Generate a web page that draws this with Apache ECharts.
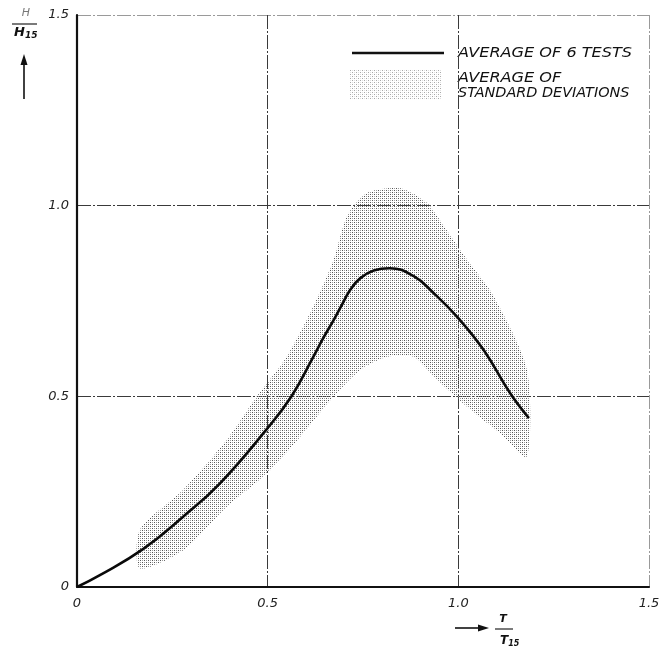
<!DOCTYPE html>
<html>
<head>
<meta charset="utf-8">
<script src="https://cdn.jsdelivr.net/npm/echarts@6/dist/echarts.min.js"></script>
<style>
  html, body { margin: 0; padding: 0; background: #fff; }
  #chart { width: 670px; height: 662px; }
</style>
</head>
<body>
<div id="chart"></div>
<script>
// Relative wave height H/H15 against relative period T/T15
const tickValues = [0, 0.5, 1.0, 1.5];
const tickLabels = ['0', '0.5', '1.0', '1.5'];

// Average of 6 tests
const meanT = [0, 0.06, 0.174, 0.279, 0.375, 0.496, 0.563, 0.62, 0.646, 0.673, 0.69, 0.717, 0.743, 0.778, 0.82, 0.883, 0.935, 1.0, 1.066, 1.136, 1.185];
const meanH = [0, 0.031, 0.10, 0.185, 0.272, 0.412, 0.501, 0.604, 0.653, 0.70, 0.731, 0.78, 0.81, 0.830, 0.836, 0.815, 0.771, 0.705, 0.622, 0.508, 0.443];

// Band of average standard deviations: upper and lower edges
const upperT = [0.165, 0.279, 0.393, 0.472, 0.55, 0.62, 0.673, 0.708, 0.76, 0.848, 0.918, 0.962, 1.023, 1.093, 1.18];
const upperH = [0.15, 0.255, 0.386, 0.50, 0.604, 0.736, 0.858, 0.972, 1.033, 1.046, 1.007, 0.946, 0.858, 0.762, 0.57];
const lowerT = [0.165, 0.279, 0.393, 0.498, 0.585, 0.673, 0.743, 0.813, 0.883, 0.935, 1.023, 1.11, 1.18];
const lowerH = [0.049, 0.097, 0.211, 0.298, 0.394, 0.50, 0.57, 0.604, 0.604, 0.552, 0.473, 0.403, 0.342];

const legendLine = 'AVERAGE OF 6 TESTS';
const legendBand = ['AVERAGE OF', 'STANDARD DEVIATIONS'];

// Halftone-like dot screen used for the deviation band
function dotPattern(dark, light) {
  const c = document.createElement('canvas');
  c.width = 4; c.height = 4;
  const ctx = c.getContext('2d');
  ctx.fillStyle = dark;
  ctx.fillRect(0, 0, 1, 1);
  ctx.fillRect(2, 2, 1, 1);
  if (light) {
    ctx.fillStyle = light;
    ctx.fillRect(2, 0, 1, 1);
    ctx.fillRect(0, 2, 1, 1);
  }
  return { image: c, repeat: 'repeat' };
}
const bandFill = dotPattern('#555555', '#9a9a9a');
const legendFill = dotPattern('#a8a8a8', '#e0e0e0');

const FONT = '"DejaVu Sans", sans-serif';
const toPairs = (xs, ys) => xs.map((x, i) => [x, ys[i]]);

const chart = echarts.init(document.getElementById('chart'), null, { renderer: 'canvas' });

const gridLineStyle = { color: ['#000', '#3a3a3a', '#3a3a3a', '#9a9a9a'], width: 1, type: [14, 2, 2, 2] };

const option = {
  animation: false,
  backgroundColor: '#fff',
  grid: { left: 77, right: 21, top: 15, bottom: 75 },
  xAxis: {
    type: 'value', min: 0, max: 1.5, interval: 0.5,
    axisLine: { show: true, onZero: false, lineStyle: { color: '#111', width: 2.2 } },
    axisTick: { show: false },
    axisLabel: {
      margin: 10, color: '#222', fontFamily: FONT, fontStyle: 'italic', fontSize: 13,
      formatter: v => tickLabels[tickValues.indexOf(Math.round(v * 10) / 10)]
    },
    splitLine: { show: true, lineStyle: gridLineStyle }
  },
  yAxis: {
    type: 'value', min: 0, max: 1.5, interval: 0.5,
    axisLine: { show: true, onZero: false, lineStyle: { color: '#111', width: 2.2 } },
    axisTick: { show: false },
    axisLabel: {
      margin: 8, color: '#222', fontFamily: FONT, fontStyle: 'italic', fontSize: 13,
      formatter: v => tickLabels[tickValues.indexOf(Math.round(v * 10) / 10)]
    },
    splitLine: { show: true, lineStyle: gridLineStyle }
  },
  series: [
    {
      name: 'band',
      type: 'custom',
      data: [[0, 0]],
      z: 1,
      renderItem: function (params, api) {
        const top = upperT.map((t, i) => api.coord([t, upperH[i]]));
        const bottom = lowerT.map((t, i) => api.coord([t, lowerH[i]])).reverse();
        return {
          type: 'polygon',
          shape: { points: top.concat(bottom), smooth: 0.25 },
          style: { fill: bandFill, stroke: null }
        };
      }
    },
    {
      name: legendLine,
      type: 'line',
      data: toPairs(meanT, meanH),
      smooth: 0.45,
      symbol: 'none',
      z: 3,
      lineStyle: { color: '#0a0a0a', width: 2.6 }
    }
  ],
  graphic: [
    // legend
    { type: 'line', shape: { x1: 352, y1: 53, x2: 444, y2: 53 }, style: { stroke: '#111', lineWidth: 2.6 } },
    { type: 'text', x: 458, y: 53, scaleX: 1.15, style: { text: legendLine, font: 'italic 14px ' + FONT, fill: '#111', textVerticalAlign: 'middle' } },
    { type: 'rect', shape: { x: 350, y: 70, width: 92, height: 30 }, style: { fill: legendFill } },
    { type: 'text', x: 458, y: 78, scaleX: 1.15, style: { text: legendBand[0], font: 'italic 14px ' + FONT, fill: '#111', textVerticalAlign: 'middle' } },
    { type: 'text', x: 458, y: 93, scaleX: 1.03, style: { text: legendBand[1], font: 'italic 14px ' + FONT, fill: '#111', textVerticalAlign: 'middle' } },
    // y-axis name: H / H15 with upward arrow
    { type: 'text', x: 26, y: 13, style: { text: 'H', font: 'italic 11px ' + FONT, fill: '#777', textAlign: 'center', textVerticalAlign: 'middle' } },
    { type: 'line', shape: { x1: 12, y1: 24, x2: 37, y2: 24 }, style: { stroke: '#222', lineWidth: 1.2 } },
    { type: 'text', x: 14, y: 33, style: { text: '{h|H}{s|15}', rich: { h: { font: 'italic bold 13px ' + FONT, fill: '#111' }, s: { font: 'italic bold 9px ' + FONT, fill: '#111', padding: [6, 0, 0, 0] } }, textVerticalAlign: 'middle' } },
    { type: 'line', shape: { x1: 24, y1: 99, x2: 24, y2: 62 }, style: { stroke: '#111', lineWidth: 1.6 } },
    { type: 'polygon', shape: { points: [[24, 54], [20.5, 65], [27.5, 65]] }, style: { fill: '#111' } },
    // x-axis name: arrow then T / T15
    { type: 'line', shape: { x1: 455, y1: 628, x2: 480, y2: 628 }, style: { stroke: '#111', lineWidth: 1.6 } },
    { type: 'polygon', shape: { points: [[489, 628], [478, 624.5], [478, 631.5]] }, style: { fill: '#111' } },
    { type: 'text', x: 503, y: 619, style: { text: 'T', font: 'italic bold 11px ' + FONT, fill: '#111', textAlign: 'center', textVerticalAlign: 'middle' } },
    { type: 'line', shape: { x1: 495, y1: 629, x2: 513, y2: 629 }, style: { stroke: '#222', lineWidth: 1.2 } },
    { type: 'text', x: 500, y: 641, style: { text: '{h|T}{s|15}', rich: { h: { font: 'italic bold 12px ' + FONT, fill: '#111' }, s: { font: 'italic bold 8px ' + FONT, fill: '#111', padding: [6, 0, 0, 0] } }, textVerticalAlign: 'middle' } }
  ]
};

chart.setOption(option);
</script>
</body>
</html>
